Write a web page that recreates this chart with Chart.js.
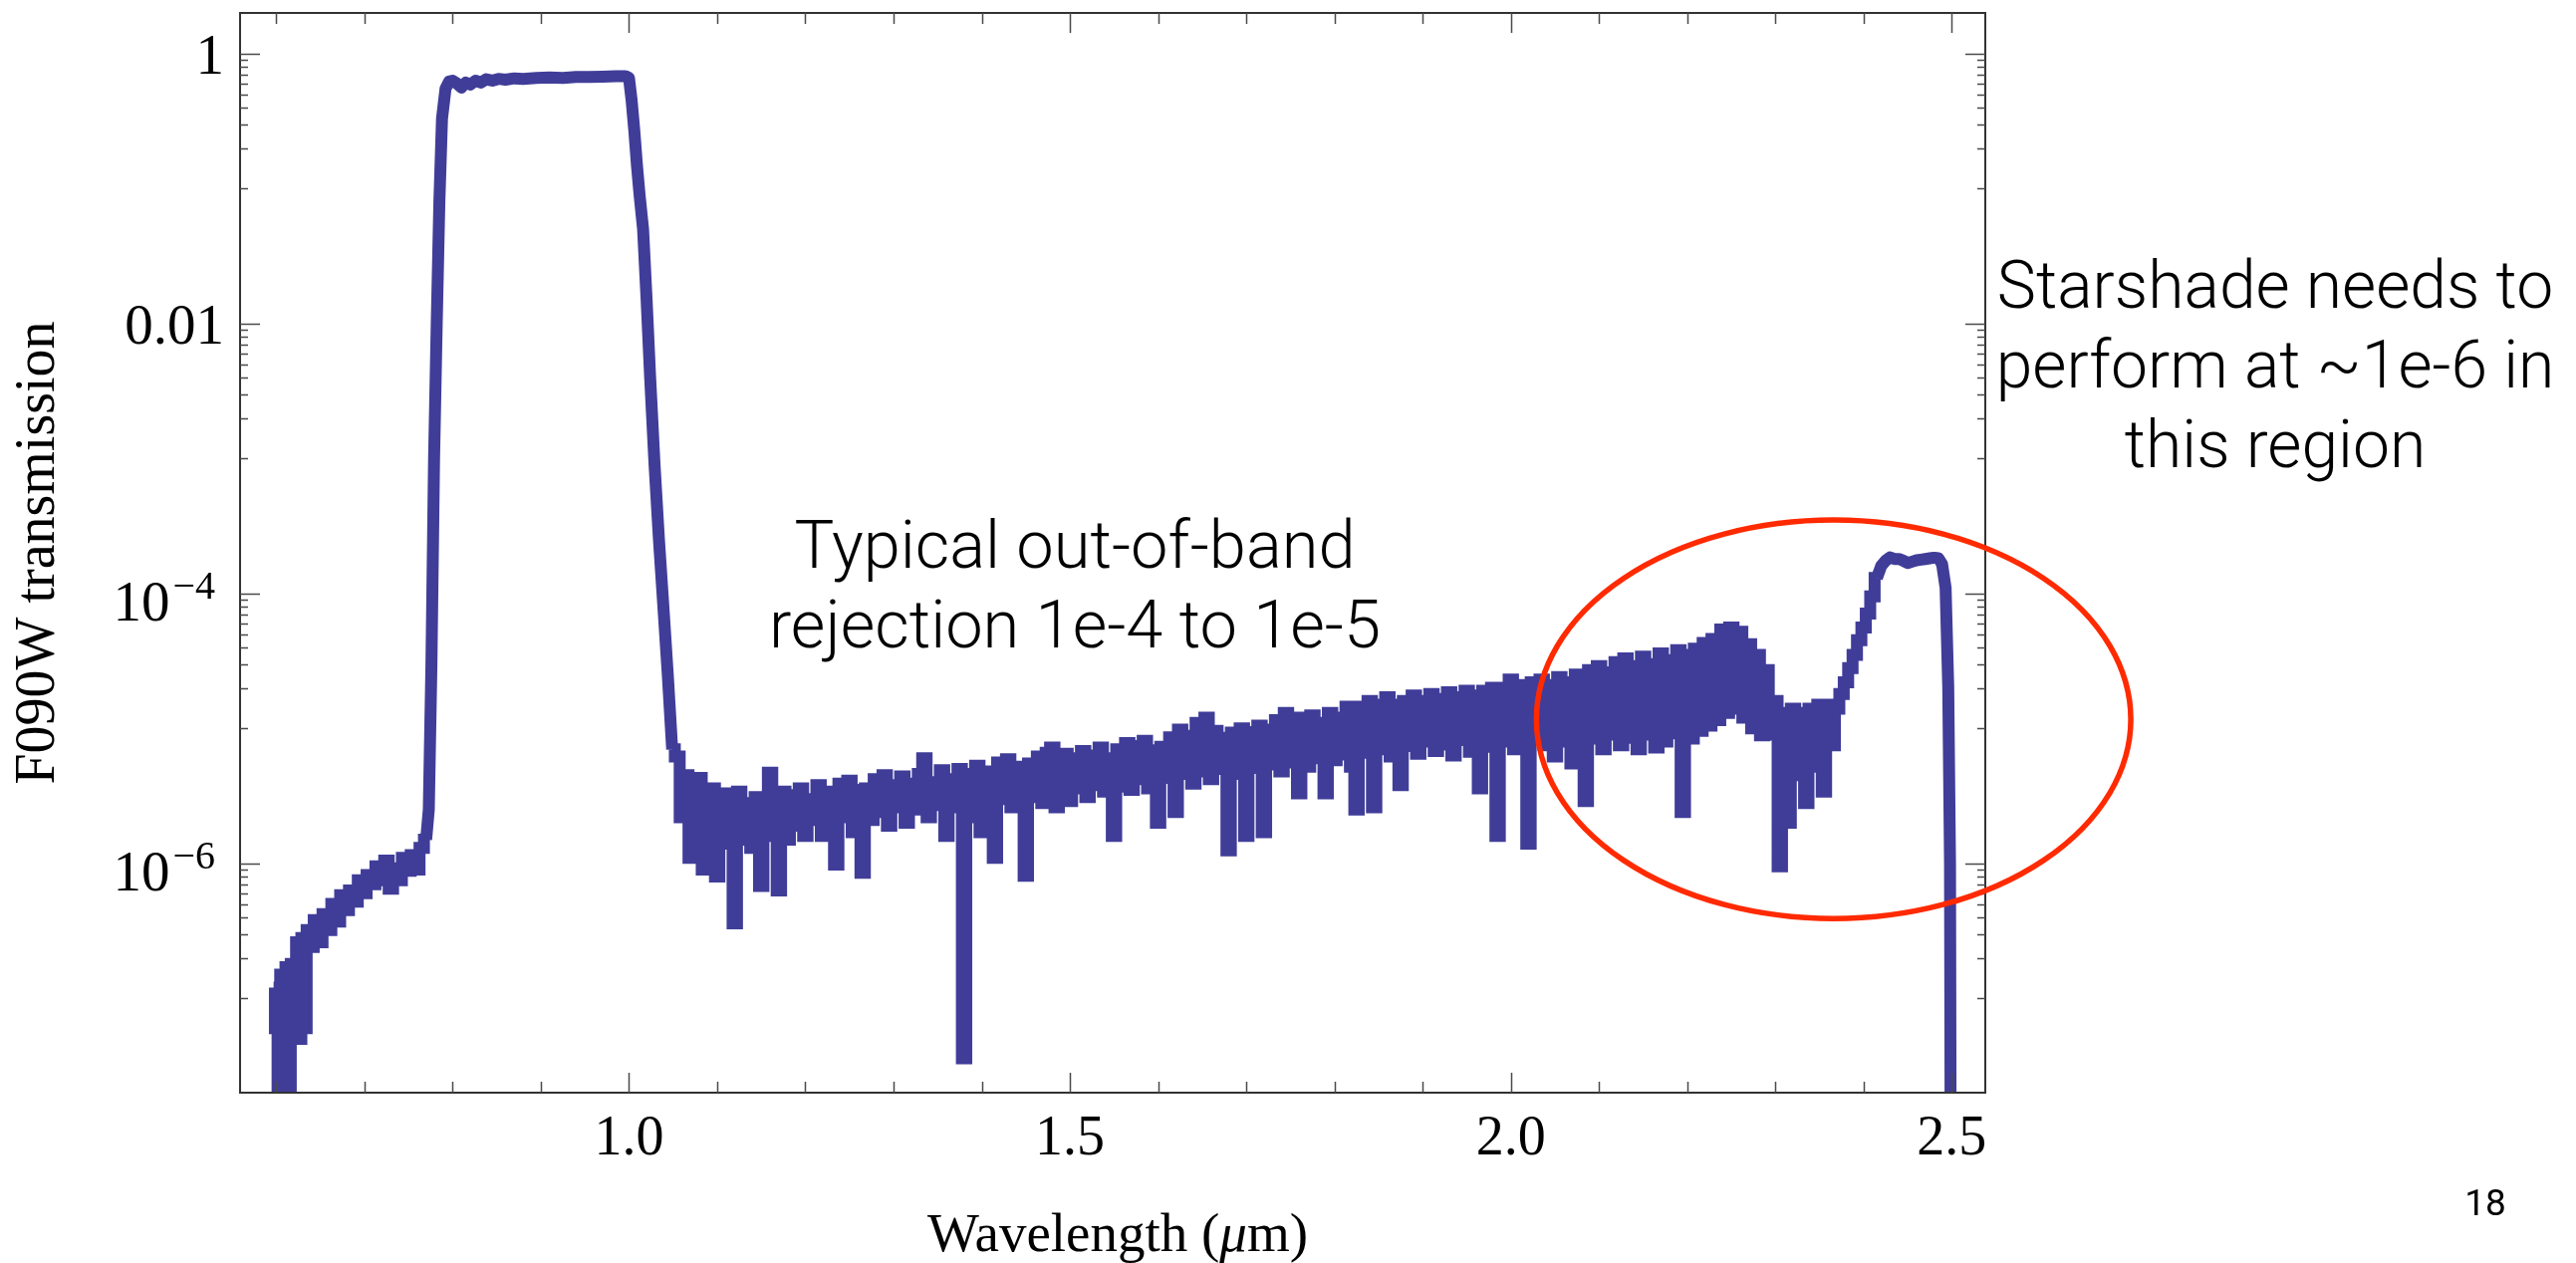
<!DOCTYPE html>
<html>
<head>
<meta charset="utf-8">
<title>F090W transmission</title>
<script src="https://cdn.jsdelivr.net/npm/chart.js"></script>
<style>
  html, body { margin: 0; padding: 0; background: #fff; overflow: hidden; }
  #chart { display: block; }
</style>
</head>
<body>
<canvas id="chart" width="2586" height="1268"></canvas>
<script>
// wavelength (microns)
const wavelength = [
  0.597, 0.600, 0.603, 0.606, 0.609, 0.612, 0.615, 0.618, 0.621, 0.624,
  0.627, 0.630, 0.633, 0.636, 0.640, 0.645, 0.650, 0.655, 0.660, 0.665,
  0.670, 0.675, 0.680, 0.685, 0.690, 0.695, 0.700, 0.705, 0.710, 0.715,
  0.720, 0.725, 0.730, 0.735, 0.740, 0.745, 0.750, 0.755, 0.760, 0.765,
  0.770, 0.773, 0.776, 0.779, 0.782, 0.785, 0.788, 0.792, 0.796, 0.800,
  0.805, 0.810, 0.815, 0.820, 0.826, 0.832, 0.838, 0.845, 0.852, 0.860,
  0.870, 0.880, 0.895, 0.910, 0.925, 0.940, 0.955, 0.970, 0.985, 0.996,
  1.000, 1.003, 1.006, 1.009, 1.012, 1.016, 1.020, 1.024, 1.029, 1.034,
  1.039, 1.044, 1.049, 1.055, 1.060, 1.065, 1.070, 1.075, 1.080, 1.085,
  1.090, 1.095, 1.100, 1.105, 1.110, 1.115, 1.120, 1.125, 1.130, 1.135,
  1.140, 1.145, 1.150, 1.155, 1.160, 1.165, 1.170, 1.175, 1.180, 1.185,
  1.190, 1.195, 1.200, 1.205, 1.210, 1.215, 1.220, 1.225, 1.230, 1.235,
  1.240, 1.245, 1.250, 1.255, 1.260, 1.265, 1.270, 1.275, 1.280, 1.285,
  1.290, 1.295, 1.300, 1.305, 1.310, 1.315, 1.320, 1.325, 1.330, 1.335,
  1.340, 1.345, 1.350, 1.355, 1.360, 1.365, 1.370, 1.375, 1.380, 1.385,
  1.390, 1.395, 1.400, 1.405, 1.410, 1.415, 1.420, 1.425, 1.430, 1.435,
  1.440, 1.445, 1.450, 1.455, 1.460, 1.465, 1.470, 1.475, 1.480, 1.485,
  1.490, 1.495, 1.500, 1.505, 1.510, 1.515, 1.520, 1.525, 1.530, 1.535,
  1.540, 1.545, 1.550, 1.555, 1.560, 1.565, 1.570, 1.575, 1.580, 1.585,
  1.590, 1.595, 1.600, 1.605, 1.610, 1.615, 1.620, 1.625, 1.630, 1.635,
  1.640, 1.645, 1.650, 1.655, 1.660, 1.665, 1.670, 1.675, 1.680, 1.685,
  1.690, 1.695, 1.700, 1.705, 1.710, 1.715, 1.720, 1.725, 1.730, 1.735,
  1.740, 1.745, 1.750, 1.755, 1.760, 1.765, 1.770, 1.775, 1.780, 1.785,
  1.790, 1.795, 1.800, 1.805, 1.810, 1.815, 1.820, 1.825, 1.830, 1.835,
  1.840, 1.845, 1.850, 1.855, 1.860, 1.865, 1.870, 1.875, 1.880, 1.885,
  1.890, 1.895, 1.900, 1.905, 1.910, 1.915, 1.920, 1.925, 1.930, 1.935,
  1.940, 1.945, 1.950, 1.955, 1.960, 1.965, 1.970, 1.975, 1.980, 1.985,
  1.990, 1.995, 2.000, 2.005, 2.010, 2.015, 2.020, 2.025, 2.030, 2.035,
  2.040, 2.045, 2.050, 2.055, 2.060, 2.065, 2.070, 2.075, 2.080, 2.085,
  2.090, 2.095, 2.100, 2.105, 2.110, 2.115, 2.120, 2.125, 2.130, 2.135,
  2.140, 2.145, 2.150, 2.155, 2.160, 2.165, 2.170, 2.175, 2.180, 2.185,
  2.190, 2.195, 2.200, 2.205, 2.210, 2.215, 2.220, 2.225, 2.230, 2.235,
  2.240, 2.245, 2.250, 2.255, 2.260, 2.265, 2.270, 2.275, 2.280, 2.285,
  2.290, 2.295, 2.300, 2.305, 2.310, 2.315, 2.320, 2.325, 2.330, 2.335,
  2.340, 2.345, 2.350, 2.355, 2.360, 2.365, 2.370, 2.375, 2.380, 2.385,
  2.390, 2.395, 2.400, 2.405, 2.410, 2.415, 2.420, 2.425, 2.430, 2.435,
  2.440, 2.445, 2.450, 2.455, 2.460, 2.465, 2.470, 2.475, 2.480, 2.485,
  2.489, 2.493, 2.496, 2.498, 2.499
];

// filter transmission at each wavelength
const transmission = [
  1.2e-7, 6.0e-8, 1.2e-8, 1.5e-7, 1.2e-8, 1.7e-7, 1.1e-8, 1.8e-7, 1.3e-7, 2.6e-7,
  5.0e-8, 2.8e-7, 6.0e-8, 3.2e-7, 2.4e-7, 3.8e-7, 2.6e-7, 4.2e-7, 3.2e-7, 5.0e-7,
  3.7e-7, 5.8e-7, 4.5e-7, 6.3e-7, 5.2e-7, 7.5e-7, 6.0e-7, 8.2e-7, 7.0e-7, 9.5e-7,
  7.5e-7, 1.05e-6, 6.5e-7, 9.2e-7, 7.5e-7, 1.1e-6, 8.8e-7, 1.15e-6, 9.0e-7, 1.3e-6,
  1.5e-6, 2.5e-6, 3.0e-5, 1.0e-3, 1.0e-2, 8.0e-2, 0.33, 0.55, 0.62, 0.63,
  0.60, 0.56, 0.61, 0.59, 0.63, 0.61, 0.645, 0.63, 0.65, 0.64,
  0.655, 0.65, 0.66, 0.665, 0.66, 0.67, 0.67, 0.675, 0.68, 0.68,
  0.66, 0.45, 0.27, 0.15, 0.09, 0.05, 0.015, 4.0e-3, 9.0e-4, 2.5e-4,
  8.0e-5, 2.5e-5, 7.0e-6, 6.2e-6, 2.2e-6, 4.5e-6, 1.1e-6, 3.2e-6, 4.3e-6, 9.0e-7,
  2.5e-6, 3.6e-6, 8.0e-7, 2.2e-6, 3.3e-6, 1.4e-6, 3.6e-7, 3.4e-6, 1.5e-6, 2.8e-6,
  1.3e-6, 3.1e-6, 6.8e-7, 2.4e-6, 4.7e-6, 1.6e-6, 6.3e-7, 3.4e-6, 1.5e-6, 3.2e-6,
  1.9e-6, 3.6e-6, 1.6e-6, 3.0e-6, 2.1e-6, 3.8e-6, 1.6e-6, 3.4e-6, 2.0e-6, 9.8e-7,
  3.9e-6, 2.2e-6, 4.1e-6, 1.7e-6, 3.5e-6, 8.5e-7, 3.6e-6, 2.1e-6, 4.2e-6, 2.4e-6,
  4.5e-6, 1.9e-6, 3.8e-6, 2.6e-6, 4.4e-6, 2.0e-6, 3.9e-6, 2.5e-6, 4.6e-6, 6.0e-6,
  2.2e-6, 4.0e-6, 2.7e-6, 4.9e-6, 1.6e-6, 4.2e-6, 2.6e-6, 5.0e-6, 3.6e-8, 4.6e-6,
  2.2e-6, 5.3e-6, 1.7e-6, 4.8e-6, 2.4e-6, 1.1e-6, 5.6e-6, 3.0e-6, 5.9e-6, 2.6e-6,
  5.2e-6, 3.3e-6, 8.1e-7, 5.5e-6, 3.1e-6, 6.2e-6, 2.8e-6, 6.6e-6, 7.2e-6, 2.6e-6,
  3.3e-6, 6.5e-6, 2.9e-6, 6.0e-6, 3.6e-6, 6.8e-6, 3.1e-6, 6.3e-6, 3.8e-6, 7.2e-6,
  3.4e-6, 6.0e-6, 1.6e-6, 7.0e-6, 3.7e-6, 7.8e-6, 3.5e-6, 7.4e-6, 4.2e-6, 8.1e-6,
  3.6e-6, 6.9e-6, 2.0e-6, 7.3e-6, 4.3e-6, 8.6e-6, 2.4e-6, 9.8e-6, 4.6e-6, 8.8e-6,
  3.9e-6, 1.1e-5, 4.8e-6, 1.2e-5, 4.2e-6, 9.6e-6, 5.0e-6, 8.5e-6, 1.25e-6, 9.3e-6,
  4.6e-6, 1.0e-5, 1.6e-6, 9.4e-6, 5.1e-6, 1.05e-5, 1.7e-6, 9.8e-6, 5.4e-6, 1.15e-5,
  4.8e-6, 1.3e-5, 5.6e-6, 1.2e-5, 3.3e-6, 1.2e-5, 5.2e-6, 1.25e-5, 6.0e-6, 1.1e-5,
  3.3e-6, 1.3e-5, 5.8e-6, 1.2e-5, 6.4e-6, 1.45e-5, 5.2e-6, 2.5e-6, 1.45e-5, 6.6e-6,
  1.6e-5, 2.6e-6, 1.5e-5, 7.0e-6, 1.7e-5, 6.2e-6, 1.5e-5, 3.8e-6, 1.6e-5, 7.4e-6,
  1.75e-5, 6.5e-6, 1.6e-5, 8.0e-6, 1.8e-5, 6.8e-6, 1.65e-5, 7.6e-6, 1.85e-5, 6.3e-6,
  1.7e-5, 8.2e-6, 1.9e-5, 6.7e-6, 1.75e-5, 3.6e-6, 1.9e-5, 7.3e-6, 2.0e-5, 1.6e-6,
  2.0e-5, 8.0e-6, 2.3e-5, 7.0e-6, 2.1e-5, 8.5e-6, 1.4e-6, 2.2e-5, 9.0e-6, 2.3e-5,
  7.5e-6, 2.1e-5, 6.2e-6, 2.4e-5, 8.0e-6, 2.2e-5, 5.5e-6, 2.5e-5, 7.8e-6, 2.9e-6,
  2.7e-5, 8.4e-6, 2.9e-5, 7.0e-6, 2.6e-5, 9.0e-6, 3.1e-5, 7.5e-6, 3.3e-5, 8.5e-6,
  2.9e-5, 7.0e-6, 3.4e-5, 9.0e-6, 3.0e-5, 7.2e-6, 3.6e-5, 8.0e-6, 3.2e-5, 9.2e-6,
  3.8e-5, 2.4e-6, 3.5e-5, 8.4e-6, 3.9e-5, 9.6e-6, 4.3e-5, 1.05e-5, 4.6e-5, 1.15e-5,
  5.4e-5, 1.3e-5, 5.6e-5, 1.4e-5, 5.2e-5, 1.2e-5, 4.2e-5, 1.0e-5, 3.5e-5, 8.9e-6,
  2.7e-5, 9.0e-6, 1.6e-5, 9.5e-7, 1.3e-5, 2.0e-6, 1.4e-5, 4.5e-6, 1.3e-5, 2.8e-6,
  1.4e-5, 5.2e-6, 1.5e-5, 3.4e-6, 1.5e-5, 7.5e-6, 1.4e-5, 1.8e-5, 2.2e-5, 2.8e-5,
  3.5e-5, 4.5e-5, 5.6e-5, 7.1e-5, 9.5e-5, 1.3e-4, 1.6e-4, 1.75e-4, 1.85e-4, 1.8e-4,
  1.8e-4, 1.75e-4, 1.68e-4, 1.72e-4, 1.76e-4, 1.78e-4, 1.8e-4, 1.82e-4, 1.84e-4, 1.82e-4,
  1.65e-4, 1.1e-4, 2.0e-5, 1.0e-6, 1.0e-9
];

// axis ticks
const xMajorTicks = [1.0, 1.5, 2.0, 2.5];
const xMinorTicks = [0.6, 0.7, 0.8, 0.9, 1.1, 1.2, 1.3, 1.4, 1.6, 1.7, 1.8, 1.9, 2.1, 2.2, 2.3, 2.4];
const yMajorTicks = [1, 1e-2, 1e-4, 1e-6];
const yTickBase = ['1', '0.01', '10', '10'];
const yTickExp = ['', '', '\u22124', '\u22126'];
const yMinorTicks = [
  0.9, 0.8, 0.7, 0.6, 0.5, 0.4, 0.3, 0.2, 0.1,
  9e-3, 8e-3, 7e-3, 6e-3, 5e-3, 4e-3, 3e-3, 2e-3, 1e-3,
  9e-5, 8e-5, 7e-5, 6e-5, 5e-5, 4e-5, 3e-5, 2e-5, 1e-5,
  9e-7, 8e-7, 7e-7, 6e-7, 5e-7, 4e-7, 3e-7, 2e-7, 1e-7
];

// red ellipse around the long-wavelength leak (data units)
const regionX = [2.029, 2.703];
const regionY = [3.9e-7, 3.5e-4];

const SERIF = '"Liberation Serif", "Times New Roman", Times, serif';
const SANS = '"Helvetica Neue", Roboto, "Liberation Sans", Arial, sans-serif';
const BLUE = '#403d99';

// slide text blocks (pixel layout)
const notes = [
  { lines: ['Typical out-of-band', 'rejection 1e-4 to 1e-5'], cx: 1079, base: 570, step: 80, fitLine: 1, fitWidth: 614 },
  { lines: ['Starshade needs to', 'perform at ~1e-6 in', 'this region'], cx: 2284, base: 309, step: 80, fitLine: 0, fitWidth: 558 }
];

// noisy stretches are drawn as steps, the filter edges as plain lines
function piece(lo, hi) {
  const pts = [];
  wavelength.forEach((w, i) => {
    if (w >= lo && w <= hi) pts.push({ x: w, y: transmission[i] });
  });
  return pts;
}
function trace(lo, hi, stepped) {
  return {
    data: piece(lo, hi),
    borderColor: BLUE,
    borderWidth: 12,
    borderJoinStyle: stepped ? 'miter' : 'round',
    stepped: stepped ? 'middle' : false,
    pointRadius: 0,
    fill: false
  };
}

const frameAndNotes = {
  id: 'frameAndNotes',
  afterDatasetsDraw(chart) {
    const { ctx, chartArea: a, scales: { x, y } } = chart;
    ctx.save();

    // frame
    ctx.strokeStyle = '#333';
    ctx.lineWidth = 2;
    ctx.strokeRect(a.left, a.top, a.right - a.left, a.bottom - a.top);

    // inward ticks on all four sides
    ctx.strokeStyle = '#4a4a4a';
    ctx.lineWidth = 1.5;
    ctx.beginPath();
    const tickX = (v, len) => {
      const px = Math.round(x.getPixelForValue(v)) + 0.5;
      ctx.moveTo(px, a.bottom); ctx.lineTo(px, a.bottom - len);
      ctx.moveTo(px, a.top); ctx.lineTo(px, a.top + len);
    };
    const tickY = (v, len) => {
      const py = Math.round(y.getPixelForValue(v)) + 0.5;
      ctx.moveTo(a.left, py); ctx.lineTo(a.left + len, py);
      ctx.moveTo(a.right, py); ctx.lineTo(a.right - len, py);
    };
    xMajorTicks.forEach(v => tickX(v, 20));
    xMinorTicks.forEach(v => tickX(v, 11));
    yMajorTicks.forEach(v => tickY(v, 20));
    yMinorTicks.forEach(v => tickY(v, 8));
    ctx.stroke();

    // y tick labels with superscript exponents
    ctx.fillStyle = '#000';
    ctx.textAlign = 'right';
    ctx.textBaseline = 'alphabetic';
    yMajorTicks.forEach((v, i) => {
      const py = y.getPixelForValue(v);
      if (yTickExp[i]) {
        const right = a.left - 25;
        ctx.font = `40px ${SERIF}`;
        const w = ctx.measureText(yTickExp[i]).width;
        ctx.fillText(yTickExp[i], right, py + 5);
        ctx.font = `57px ${SERIF}`;
        ctx.fillText(yTickBase[i], right - w - 3, py + 27);
      } else {
        ctx.font = `57px ${SERIF}`;
        ctx.fillText(yTickBase[i], a.left - 16, py + 20);
      }
    });

    // x axis title, italic mu
    const parts = [['Wavelength (', 'normal'], ['\u03bc', 'italic'], ['m)', 'normal']];
    let total = 0;
    parts.forEach(p => { ctx.font = `${p[1]} 55px ${SERIF}`; total += ctx.measureText(p[0]).width; });
    let tx = (a.left + a.right) / 2 + 5 - total / 2;
    ctx.textAlign = 'left';
    parts.forEach(p => {
      ctx.font = `${p[1]} 55px ${SERIF}`;
      ctx.fillText(p[0], tx, 1256);
      tx += ctx.measureText(p[0]).width;
    });

    // red ellipse
    const x0 = x.getPixelForValue(regionX[0]), x1 = x.getPixelForValue(regionX[1]);
    const y0 = y.getPixelForValue(regionY[0]), y1 = y.getPixelForValue(regionY[1]);
    ctx.strokeStyle = '#ff2a00';
    ctx.lineWidth = 5.5;
    ctx.beginPath();
    ctx.ellipse((x0 + x1) / 2, (y0 + y1) / 2, Math.abs(x1 - x0) / 2, Math.abs(y1 - y0) / 2, 0, 0, Math.PI * 2);
    ctx.stroke();

    // text blocks
    ctx.textAlign = 'center';
    notes.forEach(n => {
      ctx.font = `300 100px ${SANS}`;
      const size = 100 * n.fitWidth / ctx.measureText(n.lines[n.fitLine]).width;
      ctx.font = `300 ${size.toFixed(1)}px ${SANS}`;
      n.lines.forEach((t, i) => ctx.fillText(t, n.cx, n.base + i * n.step));
    });

    // slide number
    ctx.font = `37px ${SANS}`;
    ctx.fillText('18', 2495, 1220);

    ctx.restore();
  }
};

new Chart(document.getElementById('chart'), {
  type: 'line',
  data: {
    datasets: [
      trace(0.59, 0.770, true),
      trace(0.770, 1.049, false),
      trace(1.049, 2.415, true),
      trace(2.415, 2.50, false)
    ]
  },
  options: {
    responsive: false,
    animation: false,
    devicePixelRatio: 1,
    layout: { padding: { left: 0, top: 13, right: 593, bottom: 0 } },
    plugins: { legend: { display: false }, tooltip: { enabled: false } },
    scales: {
      x: {
        type: 'linear',
        min: 0.559,
        max: 2.538,
        grid: { display: false, drawTicks: false },
        border: { display: false },
        afterBuildTicks: s => { s.ticks = xMajorTicks.map(v => ({ value: v })); },
        afterFit: s => { s.height = 171; },
        ticks: {
          autoSkip: false,
          maxRotation: 0,
          padding: 19,
          color: '#000',
          font: { family: SERIF, size: 56, lineHeight: 1 },
          callback: v => Number(v).toFixed(1)
        },
        title: { display: false }
      },
      y: {
        type: 'logarithmic',
        min: 2e-8,
        max: 2.0,
        grid: { display: false, drawTicks: false },
        border: { display: false },
        ticks: { display: false },
        afterFit: s => { s.width = 241; },
        title: {
          display: true,
          text: 'F090W transmission',
          color: '#000',
          font: { family: SERIF, size: 56, lineHeight: 1 },
          padding: { top: 11, bottom: 0 }
        }
      }
    }
  },
  plugins: [frameAndNotes]
});
</script>
</body>
</html>
